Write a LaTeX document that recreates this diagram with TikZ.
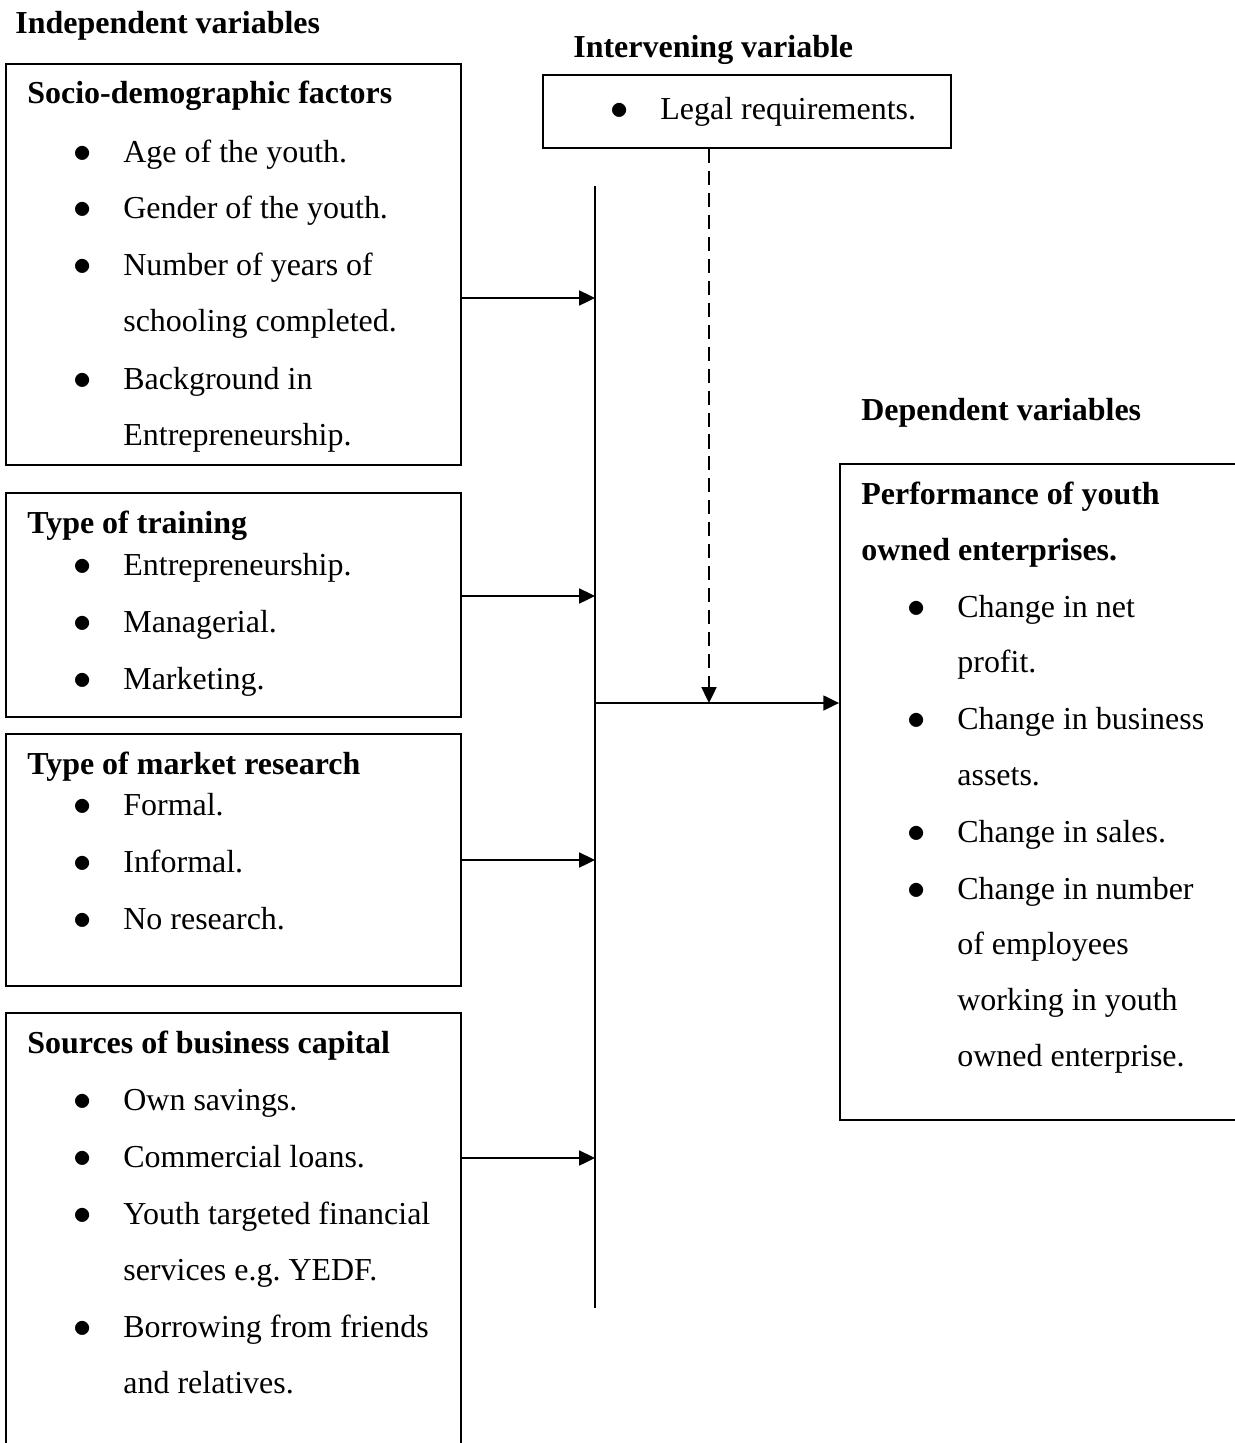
\documentclass[tikz,border=0pt]{standalone}
\usepackage{fontspec}
\setmainfont{Liberation Serif}
\usetikzlibrary{arrows.meta}
\newcommand{\blt}{\llap{\scalebox{1.2}{$\bullet$}\hspace{1em}}}

\begin{document}
\begin{tikzpicture}[x=0.02cm, y=-0.02cm,
    every node/.style={font=\fontsize{18.2}{22}\selectfont, inner sep=0pt},
    box/.style={draw, line width=1.1pt, minimum width=9.1cm},
    head/.style={anchor=base west, font=\fontsize{18.2}{22}\selectfont\bfseries},
    item/.style={anchor=base west},
    flow/.style={-{Triangle[length=9pt, width=8.5pt]}, line width=1.1pt}]
    \useasboundingbox (0,0) rectangle (1234,1443);
    % boxes
    \node[box, minimum height=8.02cm] (sd) at (233.5,264.5) {};
    \node[box, minimum height=4.48cm] (tt) at (233.5,605) {};
    \node[box, minimum height=5.04cm] (mr) at (233.5,860) {};
    \node[box, minimum height=8.94cm] (bc) at (233.5,1236.5) {};
    \node[box, minimum width=8.16cm, minimum height=1.46cm] (lr) at (747,111.5) {};
    \node[box, minimum width=8.2cm, minimum height=13.12cm] (pe) at (1045,792) {};
    % headings
    \node[head] (iv) at (15,34) {Independent variables};
    \node[head] (itv) at (573,58) {Intervening variable};
    \node[head] (dv) at (861,420) {Dependent variables};
    % socio-demographic
    \node[head] (sdt) at (27,104) {Socio-demographic factors};
    \node[item] (sd1) at (123,162) {\blt Age of the youth.};
    \node[item] (sd2) at (123,218) {\blt Gender of the youth.};
    \node[item] (sd3) at (123,275) {\blt Number of years of};
    \node[item] (sd4) at (123,331) {schooling completed.};
    \node[item] (sd5) at (123,389) {\blt Background in};
    \node[item] (sd6) at (123,445) {Entrepreneurship.};
    % training
    \node[head] (ttt) at (27,533) {Type of training};
    \node[item] (tt1) at (123,575) {\blt Entrepreneurship.};
    \node[item] (tt2) at (123,632) {\blt Managerial.};
    \node[item] (tt3) at (123,689) {\blt Marketing.};
    % market research
    \node[head] (mrt) at (27,774) {Type of market research};
    \node[item] (mr1) at (123,815) {\blt Formal.};
    \node[item] (mr2) at (123,872) {\blt Informal.};
    \node[item] (mr3) at (123,929) {\blt No research.};
    % business capital
    \node[head] (bct) at (27,1053) {Sources of business capital};
    \node[item] (bc1) at (123,1110) {\blt Own savings.};
    \node[item] (bc2) at (123,1167) {\blt Commercial loans.};
    \node[item] (bc3) at (123,1224) {\blt Youth targeted financial};
    \node[item] (bc4) at (123,1280) {services e.g.\ YEDF.};
    \node[item] (bc5) at (123,1337) {\blt Borrowing from friends};
    \node[item] (bc6) at (123,1393) {and relatives.};
    % legal
    \node[item] (lr1) at (660,119) {\blt Legal requirements.};
    % performance
    \node[head] (pet1) at (861,504) {Performance of youth};
    \node[head] (pet2) at (861,560) {owned enterprises.};
    \node[item] (pe1) at (957,617) {\blt Change in net};
    \node[item] (pe2) at (957,672) {profit.};
    \node[item] (pe3) at (957,729) {\blt Change in business};
    \node[item] (pe4) at (957,785) {assets.};
    \node[item] (pe5) at (957,842) {\blt Change in sales.};
    \node[item] (pe6) at (957,899) {\blt Change in number};
    \node[item] (pe7) at (957,954) {of employees};
    \node[item] (pe8) at (957,1010) {working in youth};
    \node[item] (pe9) at (957,1066) {owned enterprise.};
    % joining bar
    \coordinate (top) at (595,186);
    \coordinate (bot) at (595,1308);
    \coordinate (j1) at (595,298);
    \coordinate (j2) at (595,596);
    \coordinate (j3) at (595,860);
    \coordinate (j4) at (595,1158);
    \coordinate (out) at (595,703);
    \coordinate (mid) at (709,703);
    \draw[line width=0.7pt] (top) -- (bot);
    \draw[flow] (sd.east |- j1) -- (j1);
    \draw[flow] (tt.east |- j2) -- (j2);
    \draw[flow] (mr.east |- j3) -- (j3);
    \draw[flow] (bc.east |- j4) -- (j4);
    \draw[flow] (out) -- (pe.west |- out);
    \draw[flow, dash pattern=on 8pt off 4.5pt] (lr.south -| mid) -- (mid);
\end{tikzpicture}
\end{document}
